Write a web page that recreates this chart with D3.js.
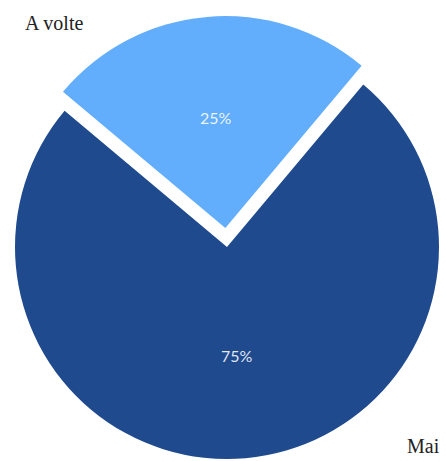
<!DOCTYPE html>
<html>
<head>
<meta charset="utf-8">
<script src="https://cdn.jsdelivr.net/npm/d3@7/dist/d3.min.js"></script>
<style>
  html, body { margin: 0; padding: 0; background: #ffffff; }
  svg { display: block; }
</style>
</head>
<body>
<div id="chart"></div>
<script>
// Answer categories and their shares (percent)
const categories = ["A volte", "Mai"];
const values = [25, 75];
const colors = ["#63aefc", "#1f4a8e"];
const exploded = [true, false];

const width = 446, height = 461;
const cx = 227, cy = 247, radius = 212;
const explodeDist = 19;
const startDeg = -50;

const svg = d3.select("#chart").append("svg")
  .attr("width", width)
  .attr("height", height);

const pie = d3.pie()
  .sort(null)
  .value(d => d)
  .startAngle(startDeg * Math.PI / 180)
  .endAngle((startDeg + 360) * Math.PI / 180);

const arcs = pie(values);
const arc = d3.arc().innerRadius(0).outerRadius(radius);
const labelArc = d3.arc().innerRadius(radius * 1.04).outerRadius(radius * 0.0);

const total = d3.sum(values);

const g = svg.append("g").attr("transform", `translate(${cx},${cy})`);

const slice = g.selectAll("g.slice")
  .data(arcs)
  .join("g")
  .attr("class", "slice")
  .attr("transform", (d, i) => {
    if (!exploded[i]) return null;
    const mid = (d.startAngle + d.endAngle) / 2;
    return `translate(${Math.sin(mid) * explodeDist},${-Math.cos(mid) * explodeDist})`;
  });

slice.append("path")
  .attr("d", arc)
  .attr("fill", (d, i) => colors[i]);

slice.append("text")
  .attr("transform", d => `translate(${labelArc.centroid(d)})`)
  .attr("text-anchor", "middle")
  .attr("dy", "0.35em")
  .attr("font-family", "Lato, 'Open Sans', sans-serif")
  .attr("font-size", 16)
  .attr("fill", "#ffffff")
  .attr("fill-opacity", 0.88)
  .text(d => Math.round(d.data / total * 100) + "%");

// Category names at the outer corners
svg.append("text")
  .attr("x", 25)
  .attr("y", 30)
  .attr("font-family", "'Liberation Serif', 'Times New Roman', serif")
  .attr("font-size", 20)
  .attr("fill", "#222222")
  .text(categories[0]);

svg.append("text")
  .attr("x", 407)
  .attr("y", 453)
  .attr("font-family", "'Liberation Serif', 'Times New Roman', serif")
  .attr("font-size", 20)
  .attr("fill", "#222222")
  .text(categories[1]);
</script>
</body>
</html>
